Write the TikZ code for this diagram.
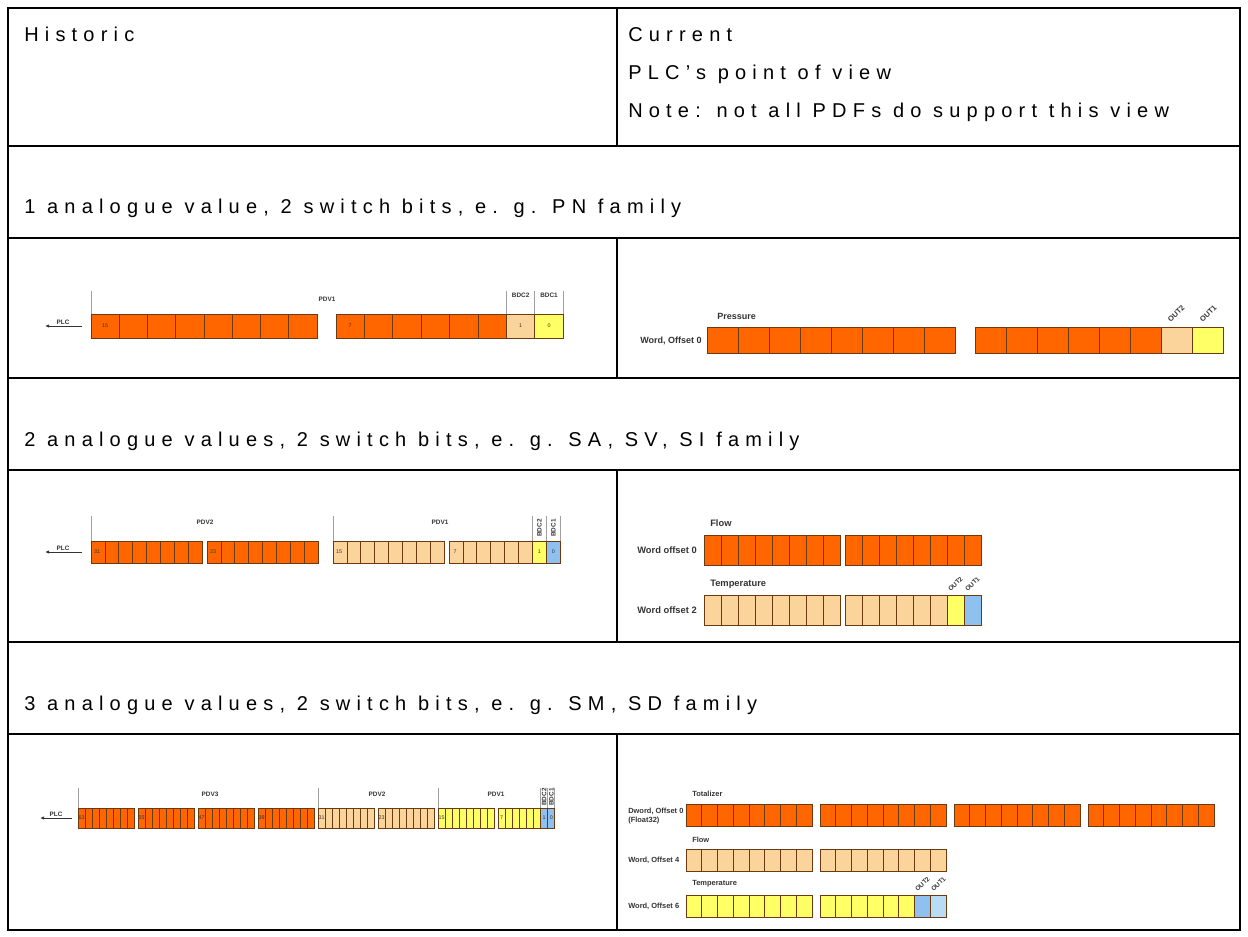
\documentclass[tikz,border=0pt]{standalone}
\usepackage{fontspec}
\setmainfont{Liberation Sans}
\newfontfamily\tabfont{Liberation Sans}[LetterSpace=31]
\usetikzlibrary{arrows.meta}
\definecolor{org}{HTML}{FF6600}
\definecolor{peach}{HTML}{FBD49C}
\definecolor{yel}{HTML}{FFFF66}
\definecolor{lblue}{HTML}{8EC0F0}
\definecolor{lblue2}{HTML}{B8DCF4}
\definecolor{cellline}{HTML}{6B3A10}
\definecolor{guidecol}{HTML}{A0A0A0}
\definecolor{lab}{HTML}{333333}
\tikzset{
 tabline/.style={line width=1.5pt},
 cell/.style={draw=cellline,line width=0.6pt},
 title/.style={font=\tabfont\fontsize{15}{18}\selectfont,anchor=base west,inner sep=0},
 dlab/.style={font=\bfseries\fontsize{6.75}{8}\selectfont,text=lab,inner sep=0},
 dlabm/.style={font=\bfseries\fontsize{7}{8}\selectfont,text=lab,inner sep=0},
 dlabs/.style={font=\bfseries\fontsize{5.6}{6.6}\selectfont,text=lab,inner sep=0},
 tinylab/.style={font=\bfseries\fontsize{4.8}{5.5}\selectfont,text=lab,inner sep=0},
 num/.style={font=\fontsize{4}{5}\selectfont,text=lab,inner sep=0},
 guideline/.style={draw=guidecol,line width=0.6pt},
 plc/.style={-{Latex[length=3pt,width=2.5pt]},line width=0.6pt,draw=lab}
}
\newcommand{\cellrow}[6]{%
  \foreach \k in {1,...,#5}{\draw[cell,fill=#6] ({#1+(\k-1)*#3},#2) rectangle ++(#3,#4);}}
\begin{document}
\begin{tikzpicture}[x=0.75pt,y=-0.75pt]
\useasboundingbox (0,0) rectangle (1248,937);
% ---------- table ----------
\draw[tabline] (8,8) rectangle (1240,930);
\foreach \yy in {146,238,378,470,642,734}{\draw[tabline] (8,\yy) -- (1240,\yy);}
\draw[tabline] (617,8) -- (617,146);
\draw[tabline] (617,238) -- (617,378);
\draw[tabline] (617,470) -- (617,642);
\draw[tabline] (617,734) -- (617,930);
% ---------- texts ----------
\node[title] (hist) at (24,42) {Historic};
\node[title] (cur) at (628,42) {Current};
\node[title] (pov) at (628,80) {PLC’s point of view};
\node[title] (note) at (628,118) {Note: not all PDFs do support this view};
\node[title] (t1) at (24,214) {1 analogue value, 2 switch bits, e. g. PN family};
\node[title] (t2) at (24,446) {2 analogue values, 2 switch bits, e. g. SA, SV, SI family};
\node[title] (t3) at (24,710) {3 analogue values, 2 switch bits, e. g. SM, SD family};

% ---------- row 1 historic ----------
\cellrow{91}{314}{28.25}{24}{8}{org}
\cellrow{336}{314}{28.4}{24}{6}{org}
\draw[cell,fill=peach] (506.4,314) rectangle ++(28.4,24);
\draw[cell,fill=yel] (534.8,314) rectangle ++(28.4,24);
\foreach \xx in {91,506.4,534.8,563.2}{\draw[guideline] (\xx,291) -- (\xx,314);}
\node[tinylab] (pdv1a) at (327,299) {PDV1};
\node[tinylab] (bdc2a) at (520.6,295) {BDC2};
\node[tinylab] (bdc1a) at (549,295) {BDC1};
\node[num] (n15a) at (105,326) {15};
\node[num] (n7a) at (350,326) {7};
\node[num] (n1a) at (520.6,326) {1};
\node[num] (n0a) at (549,326) {0};
\coordinate (p1s) at (82,326); \coordinate (p1e) at (45,326);
\draw[plc] (p1s) -- (p1e);
\node[tinylab,anchor=south] (plc1) at (63,324.5) {PLC};

% ---------- row 1 current ----------
\node[dlab,anchor=east] (w0a) at (702,341) {Word, Offset 0};
\node[dlab,anchor=west] (press) at (717,316) {Pressure};
\cellrow{707}{327}{31}{26}{8}{org}
\cellrow{975}{327}{31}{26}{6}{org}
\draw[cell,fill=peach] (1161,327) rectangle ++(31,26);
\draw[cell,fill=yel] (1192,327) rectangle ++(31,26);
\node[dlabs,rotate=45,anchor=south west] (out2a) at (1171,323) {OUT2};
\node[dlabs,rotate=45,anchor=south west] (out1a) at (1203,323) {OUT1};

% ---------- row 2 historic ----------
\cellrow{91}{541}{13.9}{22}{8}{org}
\cellrow{207}{541}{13.9}{22}{8}{org}
\cellrow{333}{541}{13.9}{22}{8}{peach}
\cellrow{449}{541}{13.9}{22}{6}{peach}
\draw[cell,fill=yel] (532.4,541) rectangle ++(13.9,22);
\draw[cell,fill=lblue] (546.3,541) rectangle ++(13.9,22);
\foreach \xx in {91,333,532.4,546.3,560.2}{\draw[guideline] (\xx,516) -- (\xx,541);}
\node[tinylab] (pdv2b) at (205,522) {PDV2};
\node[tinylab] (pdv1b) at (440,522) {PDV1};
\node[tinylab,rotate=90] (bdc2b) at (539.4,528) {BDC2};
\node[tinylab,rotate=90] (bdc1b) at (553.3,528) {BDC1};
\node[num] (n31b) at (97,552) {31};
\node[num] (n23b) at (213,552) {23};
\node[num] (n15b) at (339,552) {15};
\node[num] (n7b) at (455,552) {7};
\node[num] (n1b) at (539.4,552) {1};
\node[num] (n0b) at (553.3,552) {0};
\coordinate (p2s) at (82,552); \coordinate (p2e) at (45,552);
\draw[plc] (p2s) -- (p2e);
\node[tinylab,anchor=south] (plc2) at (63,550.5) {PLC};

% ---------- row 2 current ----------
\node[dlabm,anchor=west] (flow2) at (710,523) {Flow};
\node[dlabm,anchor=east] (w0b) at (697,550) {Word offset 0};
\cellrow{704}{535}{17}{30}{8}{org}
\cellrow{845}{535}{17}{30}{8}{org}
\node[dlabm,anchor=west] (temp2) at (710,584) {Temperature};
\node[dlabm,anchor=east] (w2b) at (697,610) {Word offset 2};
\cellrow{704}{595}{17}{30}{8}{peach}
\cellrow{845}{595}{17}{30}{6}{peach}
\draw[cell,fill=yel] (947,595) rectangle ++(17,30);
\draw[cell,fill=lblue] (964,595) rectangle ++(17,30);
\node[tinylab,rotate=45,anchor=south west] (out2b) at (951,592) {OUT2};
\node[tinylab,rotate=45,anchor=south west] (out1b) at (968,592) {OUT1};

% ---------- row 3 historic ----------
\foreach \g/\c/\lab in {0/org/63,1/org/55,2/org/47,3/org/39,4/peach/31,5/peach/23,6/yel/15}{
  \cellrow{78+60*\g}{808}{7.1}{20}{8}{\c}
  \node[num] (n\lab c) at ({78+60*\g+3.6},818) {\lab};
}
\cellrow{498}{808}{7.1}{20}{6}{yel}
\draw[cell,fill=lblue] (540.6,808) rectangle ++(7.1,20);
\draw[cell,fill=lblue] (547.7,808) rectangle ++(7.1,20);
\node[num] (n7c) at (501.6,818) {7};
\node[num] (n1c) at (544.2,818) {1};
\node[num] (n0c) at (551.3,818) {0};
\foreach \xx in {78,318,438,540.6,547.7,554.8}{\draw[guideline] (\xx,788) -- (\xx,808);}
\node[tinylab] (pdv3c) at (210,794) {PDV3};
\node[tinylab] (pdv2c) at (377,794) {PDV2};
\node[tinylab] (pdv1c) at (496,794) {PDV1};
\node[tinylab,rotate=90] (bdc2c) at (544.2,797) {BDC2};
\node[tinylab,rotate=90] (bdc1c) at (551.3,797) {BDC1};
\coordinate (p3s) at (72,818); \coordinate (p3e) at (40,818);
\draw[plc] (p3s) -- (p3e);
\node[tinylab,anchor=south] (plc3) at (56,816.5) {PLC};

% ---------- row 3 current ----------
\node[dlabs,anchor=west] (totz) at (692,794) {Totalizer};
\node[dlabs,anchor=west] (dw0) at (628,811) {Dword, Offset 0};
\node[dlabs,anchor=west] (f32) at (628,821) {(Float32)};
\foreach \xx in {686,820,954,1088}{\cellrow{\xx}{804}{15.75}{22}{8}{org}}
\node[dlabs,anchor=west] (flow3) at (692,840) {Flow};
\node[dlabs,anchor=west] (w4) at (628,860) {Word, Offset 4};
\cellrow{686}{849}{15.75}{22}{8}{peach}
\cellrow{820}{849}{15.75}{22}{8}{peach}
\node[dlabs,anchor=west] (temp3) at (692,884) {Temperature};
\node[dlabs,anchor=west] (w6) at (628,906) {Word, Offset 6};
\cellrow{686}{895}{15.75}{22}{8}{yel}
\cellrow{820}{895}{15.75}{22}{6}{yel}
\draw[cell,fill=lblue] (914.5,895) rectangle ++(15.75,22);
\draw[cell,fill=lblue2] (930.25,895) rectangle ++(15.75,22);
\node[tinylab,rotate=45,anchor=south west] (out2c) at (918,892) {OUT2};
\node[tinylab,rotate=45,anchor=south west] (out1c) at (934,892) {OUT1};
\end{tikzpicture}
\end{document}
